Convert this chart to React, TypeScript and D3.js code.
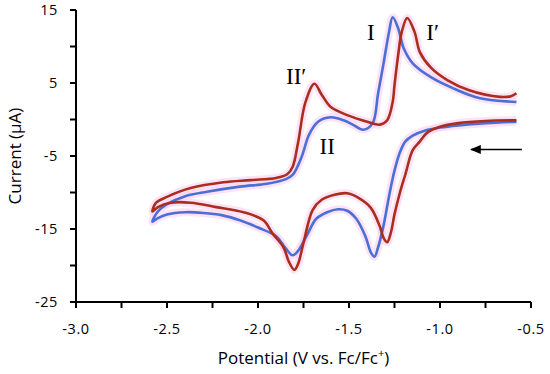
import React from 'react';
import * as d3 from 'd3';

// scan order: start at -0.58 V, forward (cathodic) to -2.58 V, then back
const blueE = [
  -0.58, -0.75, -0.9, -1.0, -1.08, -1.15, -1.19, -1.22, -1.25, -1.28, -1.31, -1.34, -1.36, -1.38, -1.41, -1.46,
  -1.51, -1.56, -1.62, -1.68, -1.73, -1.78, -1.81, -1.85, -1.9, -2.0, -2.1, -2.2, -2.3, -2.4, -2.5, -2.55, -2.58,
  -2.55, -2.5, -2.4, -2.28, -2.1, -1.95, -1.85, -1.81, -1.76, -1.72, -1.67, -1.6, -1.53, -1.48, -1.42, -1.37,
  -1.34, -1.31, -1.28, -1.26, -1.23, -1.2, -1.15, -1.05, -0.93, -0.78, -0.58,
];
const blueI = [
  -0.3, -0.5, -0.8, -1.1, -1.5, -2.2, -3.0, -4.5, -7.0, -10.5, -14.5, -17.5, -18.8, -18.2, -16.0, -13.6,
  -12.5, -12.3, -12.7, -13.6, -15.8, -18.0, -18.6, -17.6, -16.0, -14.8, -13.8, -13.1, -12.8, -12.7, -13.0, -13.5, -14.0,
  -12.6, -11.6, -10.5, -9.9, -9.2, -8.8, -8.2, -7.6, -5.1, -2.1, -0.3, 0.3, -0.1, -0.7, -1.4, -0.5,
  3.6, 7.7, 12.0, 14.0, 12.5, 9.8, 7.7, 5.8, 4.3, 2.9, 2.4,
];

const redE = [
  -0.58, -0.75, -0.9, -1.0, -1.07, -1.11, -1.15, -1.19, -1.22, -1.25, -1.27, -1.29, -1.31, -1.33, -1.38, -1.45,
  -1.51, -1.58, -1.65, -1.7, -1.75, -1.78, -1.8, -1.83, -1.86, -1.92, -1.97, -2.08, -2.23, -2.37, -2.48, -2.55, -2.58,
  -2.56, -2.5, -2.37, -2.19, -2.04, -1.9, -1.84, -1.81, -1.78, -1.74, -1.69, -1.65, -1.6, -1.51, -1.4, -1.33,
  -1.29, -1.26, -1.25, -1.23, -1.21, -1.18, -1.14, -1.11, -1.05, -0.96, -0.84, -0.67, -0.61, -0.58,
];
const redI = [
  -0.1, -0.2, -0.5, -1.0, -1.8, -3.0, -4.2, -7.5, -10.0, -13.0, -15.5, -16.8, -16.2, -14.7, -12.1, -10.7,
  -10.1, -10.3, -11.0, -12.4, -16.9, -19.8, -20.6, -19.5, -17.5, -15.6, -13.8, -12.7, -12.0, -11.4, -11.4, -12.0, -12.6,
  -11.4, -10.6, -9.4, -8.6, -8.3, -8.0, -7.5, -6.5, -3.2, 2.3, 4.9, 3.4, 1.7, 0.6, -0.3, -0.7,
  -0.1, 2.4, 4.7, 8.8, 12.0, 13.9, 12.0, 9.2, 7.1, 5.4, 4.0, 3.1, 3.2, 3.6,
];

const xTicks = [-3.0, -2.75, -2.5, -2.25, -2.0, -1.75, -1.5, -1.25, -1.0, -0.75, -0.5];
const xTickLabels = ['-3.0', '-2.5', '-2.0', '-1.5', '-1.0', '-0.5'];
const yTicks = [15, 10, 5, 0, -5, -10, -15, -20, -25];
const yTickLabels = [15, 5, -5, -15, -25];

const peakLabels = [
  { text: 'I', e: -1.38, i: 10.9 },
  { text: 'I\u2032', e: -1.04, i: 10.9 },
  { text: 'II\u2032', e: -1.79, i: 4.9 },
  { text: 'II', e: -1.62, i: -4.7 },
];

const W = 550;
const H = 374;
const left = 76;
const right = 531;
const top = 10;
const bottom = 302;

export default function App() {
  const x = d3.scaleLinear().domain([-3, -0.5]).range([left, right]);
  const y = d3.scaleLinear().domain([-25, 15]).range([bottom, top]);

  const line = d3
    .line<[number, number]>()
    .x((d) => x(d[0]))
    .y((d) => y(d[1]))
    .curve(d3.curveCatmullRom.alpha(0.5));

  const blue = line(blueE.map((e, k) => [e, blueI[k]] as [number, number])) || '';
  const red = line(redE.map((e, k) => [e, redI[k]] as [number, number])) || '';

  const sans = '"Open Sans", Lato, sans-serif';

  return (
    <svg width={W} height={H} style={{ position: 'absolute', left: 0, top: 0, background: '#fff' }}>
      {/* faint pink halo behind traces */}
      <path d={blue} fill="none" stroke="#fcd0f0" strokeWidth={8} opacity={0.6} />
      <path d={red} fill="none" stroke="#fcd0f0" strokeWidth={8} opacity={0.6} />
      <path d={blue} fill="none" stroke="#4a6fd6" strokeWidth={2.6} strokeLinejoin="round" />
      <path d={red} fill="none" stroke="#aa2e1c" strokeWidth={2.6} strokeLinejoin="round" />

      {/* axes */}
      <line x1={left} x2={right} y1={bottom} y2={bottom} stroke="#000" strokeWidth={2} />
      <line x1={left} x2={left} y1={top} y2={bottom + 1} stroke="#000" strokeWidth={2} />
      {xTicks.map((t) => (
        <line key={'xt' + t} x1={x(t)} x2={x(t)} y1={bottom} y2={bottom + 6} stroke="#000" strokeWidth={2} />
      ))}
      {yTicks.map((t) => (
        <line key={'yt' + t} x1={left - 6} x2={left} y1={y(t)} y2={y(t)} stroke="#000" strokeWidth={2} />
      ))}
      {xTickLabels.map((t) => (
        <text key={'xl' + t} x={x(+t)} y={334} textAnchor="middle" fontFamily={sans} fontSize={14.5} letterSpacing={0.6} fill="#000">
          {t}
        </text>
      ))}
      {yTickLabels.map((t) => (
        <text key={'yl' + t} x={58} y={y(t) + 5} textAnchor="end" fontFamily={sans} fontSize={14.5} letterSpacing={0.6} fill="#000">
          {t}
        </text>
      ))}
      <text x={(left + right) / 2} y={364} textAnchor="middle" fontFamily={sans} fontSize={17} fill="#000">
        Potential (V vs. Fc/Fc<tspan dy={-7} fontSize={11}>+</tspan><tspan dy={7}>)</tspan>
      </text>
      <text
        transform={`translate(21,${(top + bottom) / 2}) rotate(-90)`}
        textAnchor="middle"
        fontFamily={sans}
        fontSize={17}
        fill="#000"
      >
        Current (μA)
      </text>

      {/* peak labels */}
      {peakLabels.map((p) => (
        <text key={p.text} x={x(p.e)} y={y(p.i)} textAnchor="middle" fontFamily='"Liberation Serif", serif' fontSize={23} fill="#000">
          {p.text}
        </text>
      ))}

      {/* scan direction arrow */}
      <defs>
        <marker id="ah" viewBox="0 0 12 10" refX={11} refY={5} markerWidth={13} markerHeight={9} orient="auto" markerUnits="userSpaceOnUse">
          <path d="M0,0 L12,5 L0,10 z" fill="#000" />
        </marker>
      </defs>
      <line x1={x(-0.55)} x2={x(-0.83)} y1={y(-4.1)} y2={y(-4.1)} stroke="#000" strokeWidth={1.5} markerEnd="url(#ah)" />
    </svg>
  );
}
